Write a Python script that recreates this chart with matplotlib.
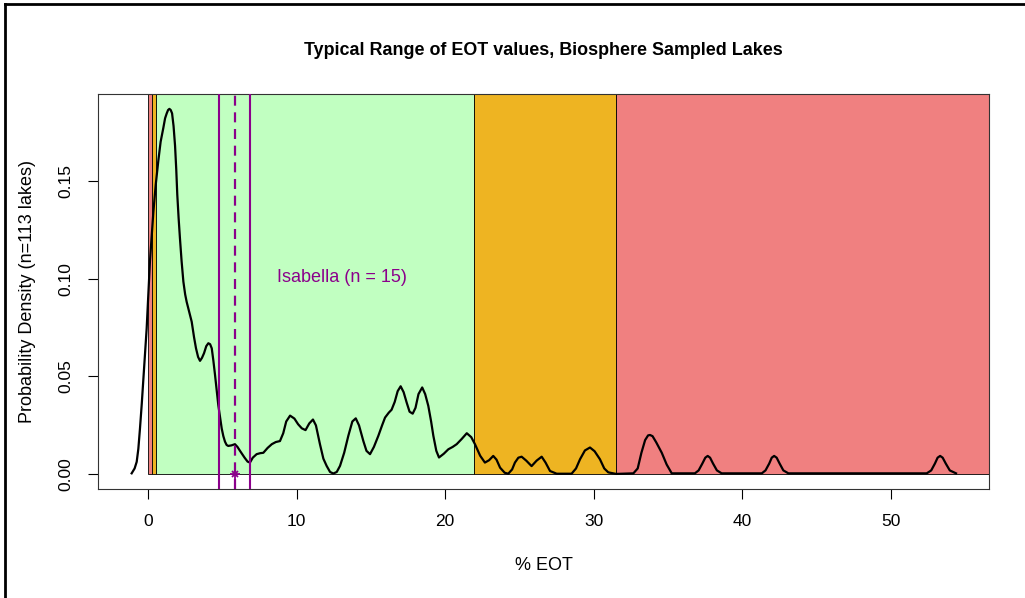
import matplotlib
matplotlib.use("Agg")
import matplotlib.pyplot as plt
from matplotlib.lines import Line2D
from matplotlib.patches import Rectangle

plt.rcParams['font.family'] = ['Liberation Sans', 'DejaVu Sans']

# density curve (% EOT, density)
density_x = [-1.10, -0.9, -0.76, -0.65, -0.54, -0.42, -0.31, -0.2, -0.09, 0.02, 0.13, 0.25,
             0.36, 0.52, 0.69, 0.85, 1.03, 1.15, 1.26, 1.35, 1.44, 1.53, 1.62, 1.72, 1.82,
             1.9, 1.97, 2.06, 2.15, 2.26, 2.38, 2.5, 2.60, 2.77, 2.94, 3.1, 3.23, 3.37,
             3.50, 3.63, 3.77, 3.92, 4.06, 4.18, 4.29, 4.4, 4.51, 4.62, 4.73, 4.85, 4.96,
             5.07, 5.18, 5.29, 5.40, 5.62, 5.85, 6.02, 6.19, 6.5, 6.7, 6.86, 7.05, 7.31,
             7.55, 7.76, 8.05, 8.33, 8.6, 8.88, 9.1, 9.3, 9.56, 9.85, 10.1, 10.35, 10.6,
             10.85, 11.1, 11.3, 11.57, 11.8, 12.02, 12.25, 12.47, 12.7, 12.92, 13.2, 13.48,
             13.75, 13.98, 14.2, 14.49, 14.7, 14.94, 15.2, 15.5, 15.75, 15.95, 16.2, 16.39,
             16.6, 16.8, 17.0, 17.2, 17.4, 17.6, 17.81, 18.0, 18.2, 18.45, 18.65, 18.86,
             19.05, 19.2, 19.4, 19.58, 19.9, 20.21, 20.5, 20.77, 21.1, 21.45, 21.75, 22.0,
             22.35, 22.67, 22.95, 23.23, 23.45, 23.69, 24.0, 24.24, 24.5, 24.69, 24.92,
             25.14, 25.45, 25.81, 26.15, 26.49, 26.75, 27.05, 27.5, 28.5, 28.8, 29.07, 29.4,
             29.74, 30.05, 30.41, 30.7, 30.97, 31.5, 32.66, 32.95, 33.2, 33.45, 33.65,
             33.78, 33.95, 34.2, 34.57, 34.9, 35.24, 36.8, 37.05, 37.3, 37.5, 37.66, 37.82,
             38.02, 38.28, 38.6, 41.3, 41.55, 41.8, 41.97, 42.13, 42.3, 42.5, 42.75, 43.09,
             52.4, 52.7, 52.95, 53.13, 53.3, 53.47, 53.68, 53.95, 54.37]
density_y = [0.0005, 0.003, 0.0064, 0.013, 0.0234, 0.036, 0.049, 0.062, 0.0745, 0.092,
             0.1087, 0.122, 0.134, 0.148, 0.160, 0.170, 0.177, 0.182, 0.1845, 0.1862,
             0.1868, 0.1862, 0.1845, 0.178, 0.168, 0.156, 0.143, 0.131, 0.1206, 0.109,
             0.0985, 0.092, 0.0882, 0.083, 0.078, 0.070, 0.0644, 0.060, 0.058, 0.0595,
             0.0619, 0.0655, 0.067, 0.0665, 0.0644, 0.058, 0.0508, 0.043, 0.0354, 0.029,
             0.0234, 0.0195, 0.0167, 0.015, 0.0145, 0.0148, 0.0154, 0.014, 0.012, 0.0085,
             0.0065, 0.006, 0.0085, 0.0103, 0.0108, 0.0110, 0.0135, 0.0154, 0.0165, 0.017,
             0.021, 0.027, 0.030, 0.0285, 0.0256, 0.0235, 0.0226, 0.026, 0.028, 0.025,
             0.0154, 0.008, 0.0043, 0.0012, 0.0004, 0.0012, 0.0043, 0.011, 0.0197, 0.027,
             0.0286, 0.025, 0.017, 0.012, 0.0103, 0.014, 0.0197, 0.025, 0.029, 0.0315,
             0.033, 0.037, 0.0425, 0.045, 0.042, 0.0368, 0.032, 0.031, 0.034, 0.041,
             0.0444, 0.041, 0.035, 0.027, 0.0197, 0.012, 0.0086, 0.0105, 0.0128, 0.014,
             0.0154, 0.018, 0.021, 0.019, 0.0154, 0.0095, 0.006, 0.0072, 0.0094, 0.0075,
             0.0034, 0.0008, 0.0003, 0.0025, 0.006, 0.0085, 0.009, 0.007, 0.0042, 0.007,
             0.009, 0.006, 0.0017, 0.0003, 0.0003, 0.003, 0.0077, 0.0122, 0.0137, 0.0118,
             0.0077, 0.003, 0.001, 0.0002, 0.0005, 0.003, 0.011, 0.0175, 0.0199, 0.0201,
             0.0195, 0.0163, 0.011, 0.005, 0.0005, 0.0005, 0.002, 0.0055, 0.0085, 0.0094,
             0.0085, 0.0055, 0.002, 0.0005, 0.0005, 0.002, 0.0055, 0.0085, 0.0094, 0.0085,
             0.0055, 0.002, 0.0005, 0.0005, 0.002, 0.0055, 0.0085, 0.0094, 0.0085, 0.0055,
             0.002, 0.0005]

# trophic bands: start, end, colour
band_start = [0.0, 0.27, 0.54, 21.94, 31.5]
band_end = [0.27, 0.54, 21.94, 31.5, 60.0]
band_color = ['#F08080', '#EEB422', '#C1FFC1', '#EEB422', '#F08080']

# Isabella lake range and mean
isabella_low = 4.78
isabella_high = 6.86
isabella_mean = 5.85
isabella_label = "Isabella (n = 15)"
label_pos = (13.05, 0.1004)

purple = '#8B008B'

fig = plt.figure(figsize=(10.25, 5.98), dpi=100)
ax = fig.add_axes([0.0956, 0.1823, 0.8693, 0.6605])

for s, e, c in zip(band_start, band_end, band_color):
    ax.add_patch(Rectangle((s, 0), e - s, 1.0, facecolor=c, edgecolor='black',
                           linewidth=0.6, zorder=1))

ax.plot(density_x, density_y, color='black', lw=1.6, zorder=3,
        solid_joinstyle='round')

ax.axvline(isabella_low, color=purple, lw=1.5, zorder=4)
ax.axvline(isabella_high, color=purple, lw=1.5, zorder=4)
ax.axvline(isabella_mean, color=purple, lw=1.6, dashes=(4.5, 3), zorder=4)
ax.plot([isabella_mean], [0], marker='+', ms=7, mew=1.3, color=purple, zorder=5)
ax.plot([isabella_mean], [0], marker='x', ms=5, mew=1.3, color=purple, zorder=5)
ax.text(label_pos[0], label_pos[1], isabella_label, color=purple, fontsize=13,
        ha='center', va='center')

ax.set_xlim(-3.365, 56.59)
ax.set_ylim(-0.0075, 0.1944)
ax.set_xticks([0, 10, 20, 30, 40, 50])
ax.set_yticks([0, 0.05, 0.10, 0.15])
ax.set_yticklabels(['0.00', '0.05', '0.10', '0.15'], rotation=90, va='center')
ax.tick_params(direction='out', length=7, width=0.8, labelsize=12.5, pad=11)
for sp in ax.spines.values():
    sp.set_linewidth(0.8)
    sp.set_color('#333333')

ax.set_xlabel('% EOT', fontsize=13, labelpad=20)
ax.set_ylabel('Probability Density (n=113 lakes)', fontsize=13, labelpad=16)
fig.text(0.5305, 0.916, 'Typical Range of EOT values, Biosphere Sampled Lakes',
         fontsize=12.9, fontweight='bold', ha='center', va='center')

# screenshot frame on left and top
fig.add_artist(Line2D([0.005, 0.005], [0, 0.994], transform=fig.transFigure,
                      color='black', lw=2))
fig.add_artist(Line2D([0.005, 1.0], [0.994, 0.994], transform=fig.transFigure,
                      color='black', lw=2))

fig.savefig('out.png', dpi=100)
